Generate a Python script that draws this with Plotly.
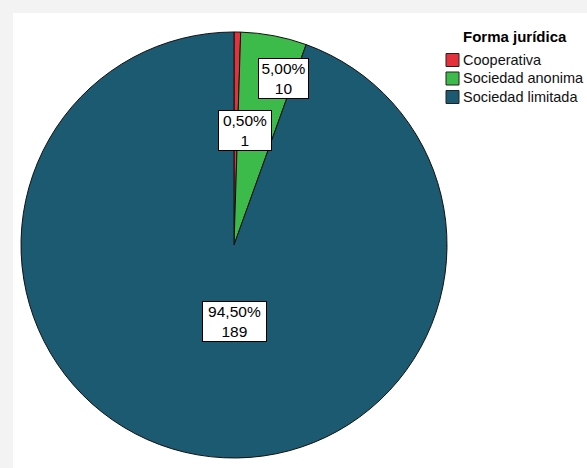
import math
import plotly.graph_objects as go

categories = ["Cooperativa", "Sociedad anonima", "Sociedad limitada"]
counts = [1, 10, 189]
percent_labels = ["0,50%", "5,00%", "94,50%"]
colors = ["#e4323c", "#3dbb4a", "#1c5a72"]
legend_title = "Forma jurídica"

W, H = 587, 468
cx, cy, R = 234, 245, 213  # pie placement in pixels
FONT = "Liberation Sans, Arial, Helvetica, sans-serif"

fig = go.Figure()
fig.add_trace(go.Pie(
    labels=categories,
    values=counts,
    sort=False,
    direction="clockwise",
    rotation=0,
    marker=dict(colors=colors, line=dict(color="#111111", width=1)),
    textinfo="none",
    hoverinfo="label+value+percent",
    showlegend=False,
    domain=dict(x=[(cx - R) / W, (cx + R) / W], y=[(H - cy - R) / H, (H - cy + R) / H]),
))

# label placement (style): radius fraction, angular nudge, box width
label_r = [0.542, 0.817, 0.36]
label_nudge = [4.6, 5.6, -10.3]
label_box_w = [50, 47, 61]

total = sum(counts)
cum = 0
anns = []
for i, v in enumerate(counts):
    mid = (cum + v / 2) / total * 360 + label_nudge[i]
    cum += v
    a = math.radians(mid)
    px = cx + label_r[i] * R * math.sin(a)
    py = cy - label_r[i] * R * math.cos(a)
    anns.append(dict(
        x=px / W, y=1 - py / H, xref="paper", yref="paper",
        text=f"{percent_labels[i]}<br>{counts[i]}", showarrow=False,
        font=dict(family=FONT, size=15.5, color="#000"),
        bgcolor="#ffffff", bordercolor="#000000", borderwidth=1, borderpad=1,
        width=label_box_w[i], align="center",
        xanchor="center", yanchor="middle",
    ))

# manual legend (built from categories/colors)
shapes = [dict(type="rect", xref="paper", yref="paper", x0=13 / W, x1=1.01, y0=-0.01, y1=1 - 13 / H,
               fillcolor="#ffffff", line=dict(width=0), layer="below")]
leg_x0, leg_y0, leg_dy, sw = 446, 60, 18.5, 13
anns.append(dict(
    x=515 / W, y=1 - 37 / H, xref="paper", yref="paper", showarrow=False,
    text=f"<b>{legend_title}</b>", font=dict(family=FONT, size=15, color="#000"),
    xanchor="center", yanchor="middle",
))
for i, cat in enumerate(categories):
    yc = leg_y0 + i * leg_dy
    shapes.append(dict(type="rect", xref="paper", yref="paper",
                       x0=leg_x0 / W, x1=(leg_x0 + sw) / W,
                       y0=1 - (yc + sw / 2) / H, y1=1 - (yc - sw / 2) / H,
                       fillcolor=colors[i], line=dict(color="#222222", width=1)))
    anns.append(dict(
        x=(leg_x0 + sw + 2) / W, y=1 - yc / H, xref="paper", yref="paper", showarrow=False,
        text=cat, font=dict(family=FONT, size=14.5, color="#111"),
        xanchor="left", yanchor="middle",
    ))

fig.update_layout(
    width=W, height=H,
    margin=dict(l=0, r=0, t=0, b=0),
    paper_bgcolor="#f3f3f3",
    plot_bgcolor="#ffffff",
    annotations=anns,
    shapes=shapes,
    showlegend=False,
)

fig.write_html("out.html", config={"displayModeBar": False},
               post_script="document.body.style.margin='0px';")
